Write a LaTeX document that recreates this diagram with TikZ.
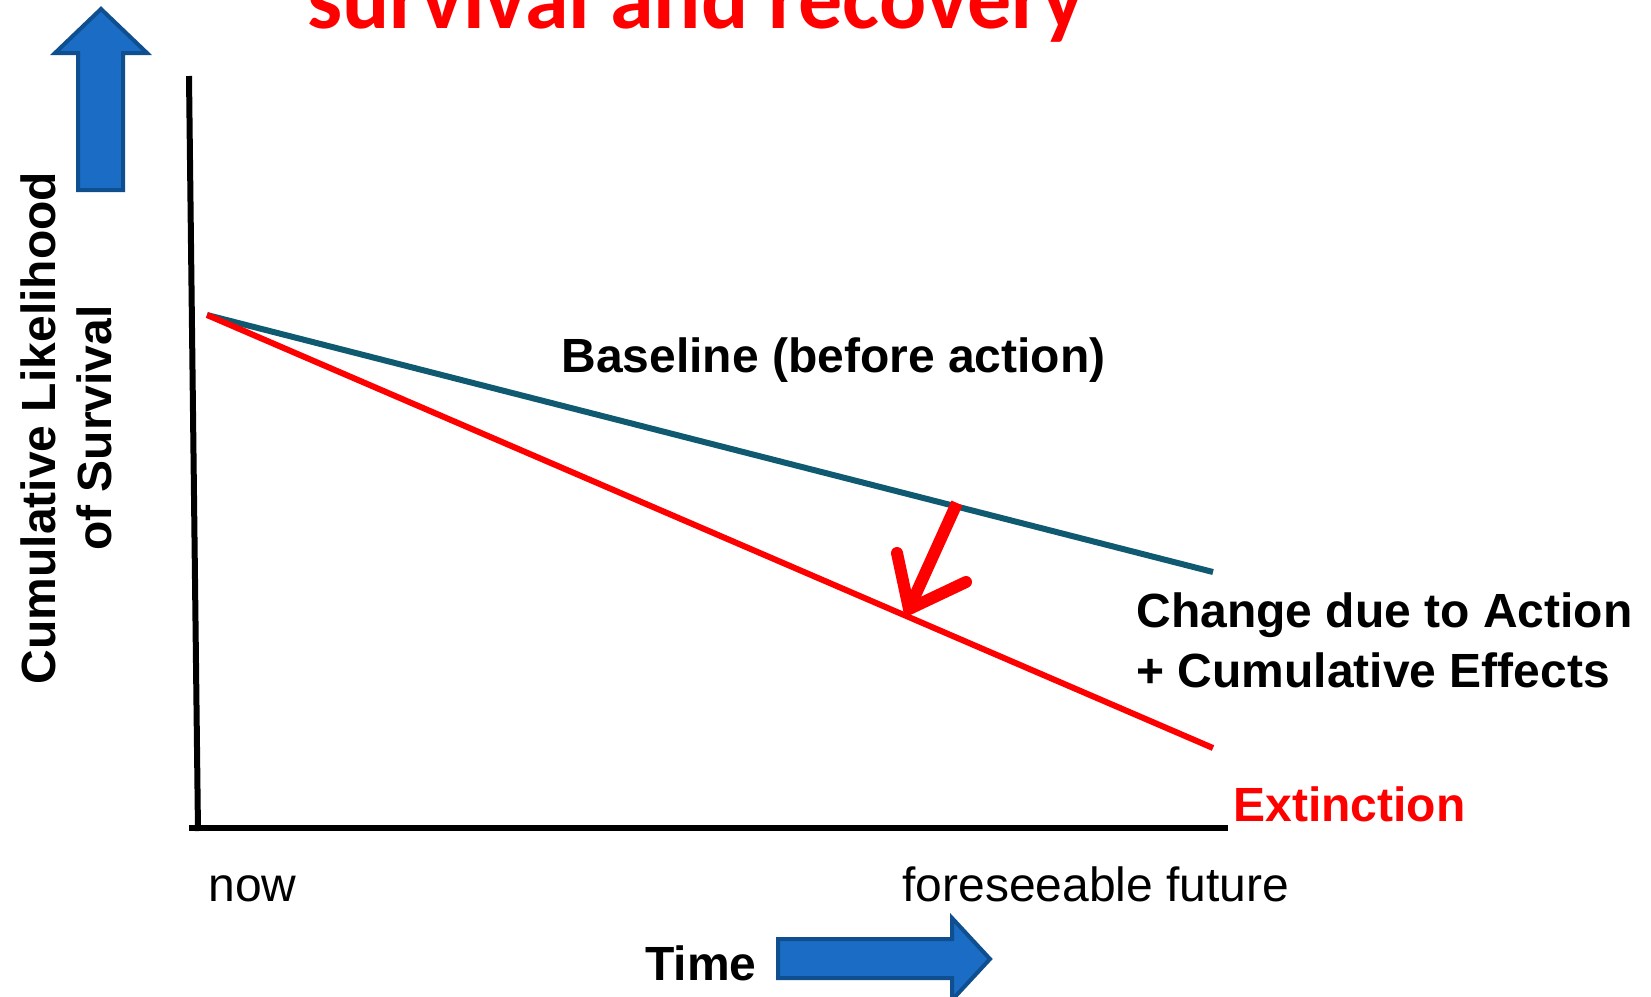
\documentclass[tikz,border=0pt]{standalone}
\usepackage{fontspec}
\setmainfont{Liberation Sans}
\newfontfamily\titlefont{Carlito}
\definecolor{baseteal}{HTML}{0F5A70}
\definecolor{blockfill}{HTML}{1A6CC4}
\definecolor{blockedge}{HTML}{0F4F8F}
\begin{document}
\begin{tikzpicture}[x=0.5pt,y=-0.5pt,
  lbl/.style={inner sep=0pt,anchor=base west,font=\fontsize{24}{29}\selectfont\bfseries},
  plain/.style={inner sep=0pt,anchor=base west,font=\fontsize{24}{29}\selectfont},
  ylbl/.style={inner sep=0pt,anchor=base,rotate=90,font=\fontsize{24}{29}\selectfont\bfseries},
  blockarrow/.style={fill=blockfill,draw=blockedge,line width=2pt,line join=miter},
  axis/.style={draw=black,line width=3pt},
  trend/.style={line width=3pt},
  drop/.style={draw=red,line width=6pt}]
\useasboundingbox (0,0) rectangle (1651,997);
\fill[white] (0,0) rectangle (1651,997);

% heading, partly above the page edge
\node[inner sep=0pt,anchor=base,text=red,font=\titlefont\bfseries\fontsize{44}{50}\selectfont] (title) at (696,28) {survival and recovery};

% block arrows beside the axis titles
\filldraw[blockarrow] (101,9) -- (147,53) -- (123,53) -- (123,190) -- (78,190) -- (78,53) -- (55,53) -- cycle;
\filldraw[blockarrow] (990,959) -- (952,918) -- (952,939) -- (778,939) -- (778,978) -- (952,978) -- (952,1000) -- cycle;

% axes
\coordinate (ytop) at (189,76);
\coordinate (ybot) at (198,831);
\coordinate (xstart) at (189,828);
\coordinate (xend) at (1228,828);
\draw[axis] (ytop) -- (ybot);
\draw[axis] (xstart) -- (xend);

% trend lines
\coordinate (now) at (207,315);
\coordinate (baseEnd) at (1213,572);
\coordinate (extEnd) at (1213,748);
\draw[trend,draw=baseteal] (now) -- (baseEnd);
\draw[trend,draw=red] (now) -- (extEnd);

% downward shift arrow
\coordinate (dropTop) at (957,503);
\coordinate (dropTip) at (909,609);
\coordinate (wingL) at (897,553);
\coordinate (wingR) at (966,582);
\draw[drop,line cap=butt] (dropTop) -- (dropTip);
\draw[drop,line cap=round,line join=miter] (wingL) -- (dropTip) -- (wingR);

% labels
\node[lbl] (baseLbl) at (561,372) {Baseline (before action)};
\node[lbl] (chg1) at (1136,627) {Change due to Action};
\node[lbl] (chg2) at (1136,687) {+ Cumulative Effects};
\node[lbl,text=red] (ext) at (1233,821) {Extinction};
\node[plain] (nowLbl) at (208,901) {now};
\node[plain] (futLbl) at (902,901) {foreseeable future};
\node[lbl] (timeLbl) at (645,980) {Time};
\node[ylbl] (ylab1) at (55,428) {Cumulative Likelihood};
\node[ylbl] (ylab2) at (112,428) {of Survival};
\end{tikzpicture}
\end{document}
